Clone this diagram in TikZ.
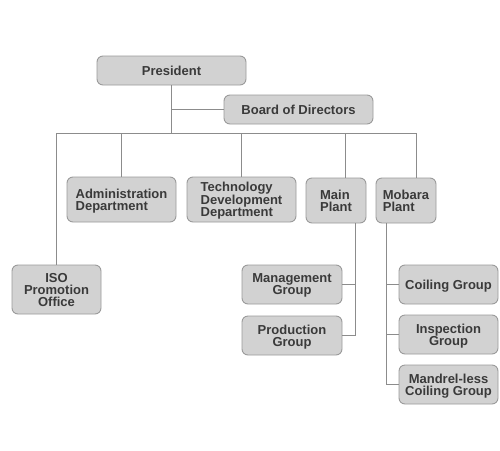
\documentclass[tikz,border=0pt]{standalone}
\usepackage{fontspec}
\setmainfont{Liberation Sans}
\begin{document}
\begin{tikzpicture}[x=1pt,y=-1pt,
  box/.style={draw=boxline, fill=boxfill, rounded corners=6pt, line width=0.9pt,
    inner sep=0pt, text=txt, text depth=0pt, font=\fontsize{13}{12}\selectfont\bfseries},
  lbox/.style={box, align=left},
  cbox/.style={box, align=center},
  conn/.style={draw=lineclr, line width=0.9pt}]
\definecolor{boxfill}{HTML}{D2D2D2}
\definecolor{boxline}{HTML}{9A9A9A}
\definecolor{lineclr}{HTML}{8C8C8C}
\definecolor{txt}{HTML}{3A3A3A}
\useasboundingbox (0,0) rectangle (500,450);
% boxes
\node[cbox, minimum width=149pt, minimum height=29pt] (pres) at (171.5,70.5) {President};
\node[cbox, minimum width=149pt, minimum height=29pt] (board) at (298.5,109.5) {Board of Directors};
\node[lbox, minimum width=109pt, minimum height=45pt] (admin) at (121.5,199.5) {Administration\\Department};
\node[lbox, minimum width=109pt, minimum height=45pt] (tech) at (241.5,199.5) {Technology\\Development\\Department};
\node[lbox, minimum width=60pt, minimum height=45pt] (main) at (336,200.5) {Main\\Plant};
\node[lbox, minimum width=60pt, minimum height=45pt] (mobara) at (406,200.5) {Mobara\\Plant};
\node[cbox, minimum width=89pt, minimum height=49pt] (iso) at (56.5,289.5) {ISO\\Promotion\\Office};
\node[cbox, minimum width=100pt, minimum height=39pt] (mgmt) at (292,284.5) {Management\\Group};
\node[cbox, minimum width=100pt, minimum height=39pt] (prod) at (292,335.5) {Production\\Group};
\node[cbox, minimum width=99pt, minimum height=39pt] (coil) at (448.5,284.5) {Coiling Group};
\node[cbox, minimum width=99pt, minimum height=39pt] (insp) at (448.5,334.5) {Inspection\\Group};
\node[cbox, minimum width=99pt, minimum height=39pt] (mand) at (448.5,384.5) {Mandrel-less\\Coiling Group};
% coordinates
\coordinate (busR) at (416,133);
\coordinate (mainDrop) at ([xshift=9pt]main.north);
\coordinate (mainStem) at ([xshift=19pt]main.south);
\coordinate (mobDrop) at ([xshift=10pt]mobara.north);
\coordinate (mobStem) at ([xshift=-20pt]mobara.south);
% connectors
\draw[conn] (pres.south) -- (pres.south |- busR);
\draw[conn] (board.west) -- (board.west -| pres.south);
\draw[conn] (iso.north) |- (busR);
\draw[conn] (admin.north) -- (admin.north |- busR);
\draw[conn] (tech.north) -- (tech.north |- busR);
\draw[conn] (mainDrop) -- (mainDrop |- busR);
\draw[conn] (mobDrop) -- (busR);
\draw[conn] (mainStem) |- (prod.east);
\draw[conn] (mgmt.east) -- (mgmt.east -| mainStem);
\draw[conn] (mobStem) |- (mand.west);
\draw[conn] (coil.west) -- (coil.west -| mobStem);
\draw[conn] (insp.west) -- (insp.west -| mobStem);
\end{tikzpicture}
\end{document}
